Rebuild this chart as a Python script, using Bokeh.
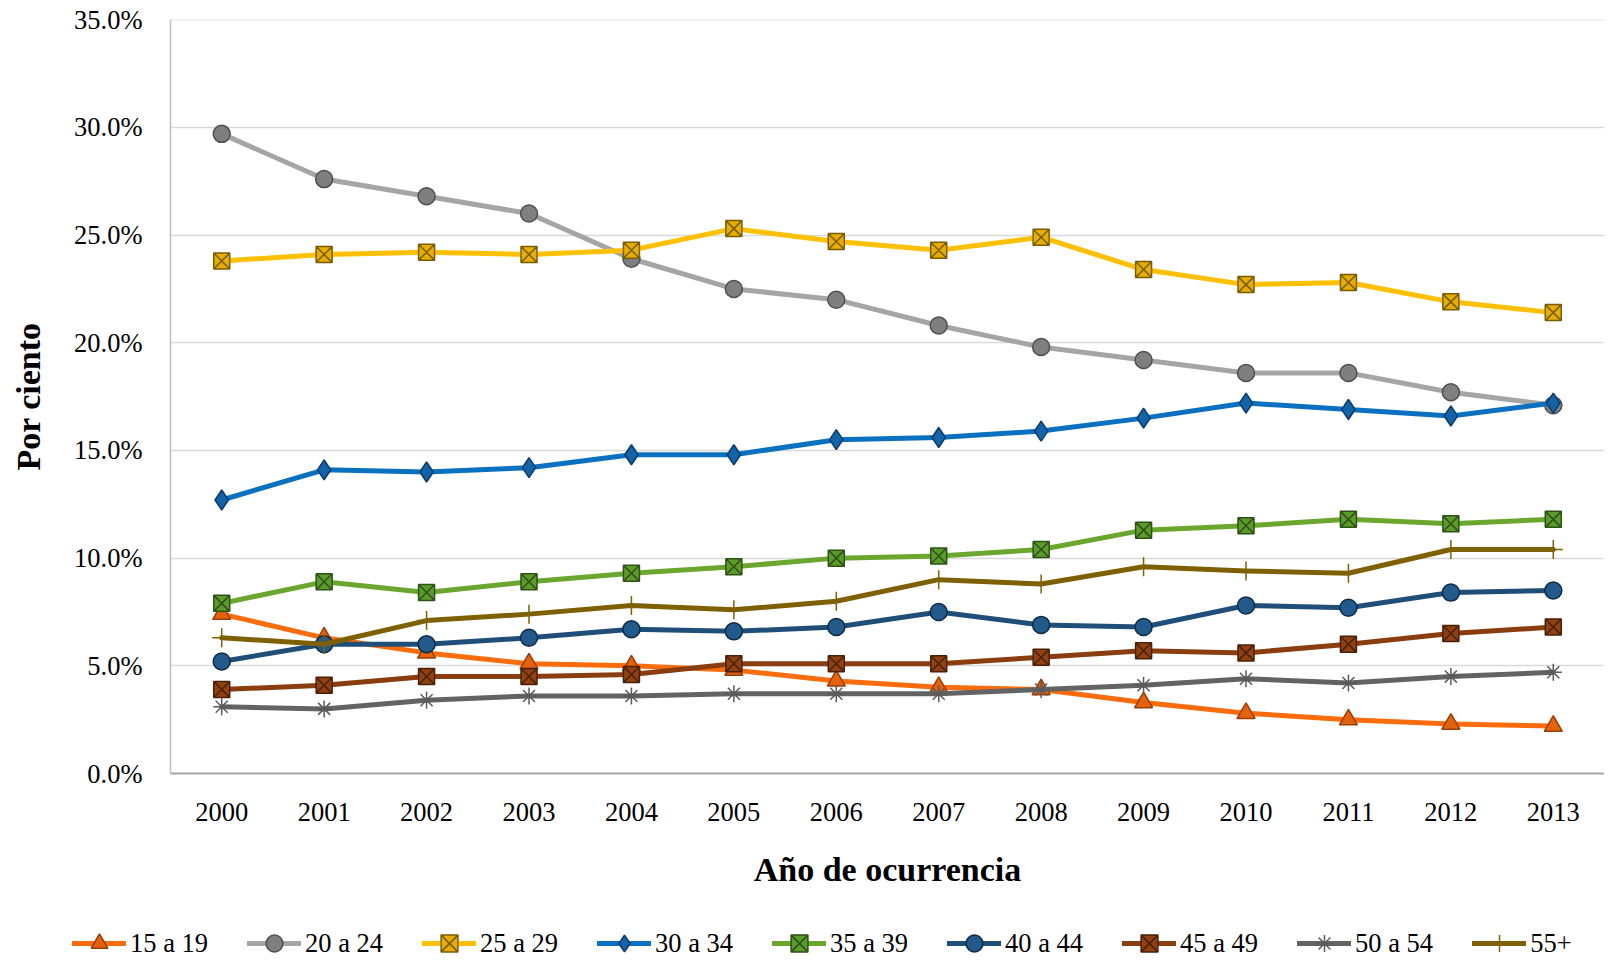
from bokeh.plotting import figure
from bokeh.layouts import column
from bokeh.models import (FactorRange, Range1d, SingleIntervalTicker, NumeralTickFormatter,
                          Legend, LegendItem)
from bokeh.embed import file_html
from bokeh.resources import INLINE

years = ["2000", "2001", "2002", "2003", "2004", "2005", "2006", "2007",
         "2008", "2009", "2010", "2011", "2012", "2013"]

g15_19 = [7.4, 6.3, 5.6, 5.1, 5.0, 4.8, 4.3, 4.0, 3.9, 3.3, 2.8, 2.5, 2.3, 2.2]
g20_24 = [29.7, 27.6, 26.8, 26.0, 23.9, 22.5, 22.0, 20.8, 19.8, 19.2, 18.6, 18.6, 17.7, 17.1]
g25_29 = [23.8, 24.1, 24.2, 24.1, 24.3, 25.3, 24.7, 24.3, 24.9, 23.4, 22.7, 22.8, 21.9, 21.4]
g30_34 = [12.7, 14.1, 14.0, 14.2, 14.8, 14.8, 15.5, 15.6, 15.9, 16.5, 17.2, 16.9, 16.6, 17.2]
g35_39 = [7.9, 8.9, 8.4, 8.9, 9.3, 9.6, 10.0, 10.1, 10.4, 11.3, 11.5, 11.8, 11.6, 11.8]
g40_44 = [5.2, 6.0, 6.0, 6.3, 6.7, 6.6, 6.8, 7.5, 6.9, 6.8, 7.8, 7.7, 8.4, 8.5]
g45_49 = [3.9, 4.1, 4.5, 4.5, 4.6, 5.1, 5.1, 5.1, 5.4, 5.7, 5.6, 6.0, 6.5, 6.8]
g50_54 = [3.1, 3.0, 3.4, 3.6, 3.6, 3.7, 3.7, 3.7, 3.9, 4.1, 4.4, 4.2, 4.5, 4.7]
g55p = [6.3, 6.0, 7.1, 7.4, 7.8, 7.6, 8.0, 9.0, 8.8, 9.6, 9.4, 9.3, 10.4, 10.4]

labels = ["15 a 19", "20 a 24", "25 a 29", "30 a 34", "35 a 39",
          "40 a 44", "45 a 49", "50 a 54", "55+"]
series = [g15_19, g20_24, g25_29, g30_34, g35_39, g40_44, g45_49, g50_54, g55p]

# (line color, marker, marker fill, marker outline, marker size)
styles = [
    ("#FB6D0C", "triangle", "#E2620E", "#9A3E06", 18),
    ("#A5A5A5", "circle", "#7F7F7F", "#4F4F4F", 17),
    ("#FFC000", "square_x", "#E6AE00", "#7A5C00", 16),
    ("#0A70C0", "diamond", "#1462A8", "#0A3C6A", 20),
    ("#6BA72F", "square_x", "#5C9A2C", "#2C5214", 16),
    ("#1F4E79", "circle", "#225A8C", "#0F2A44", 17),
    ("#8A3D0E", "square_x", "#8E4213", "#4A1F05", 16),
    ("#636363", "asterisk", "#636363", "#5A5A5A", 17),
    ("#7F6000", "cross", "#7F6000", "#7F6000", 19),
]

FONT = "Liberation Serif"
W = 1604

p = figure(width=W, height=910, output_backend="svg", toolbar_location=None,
           x_range=FactorRange(*years, range_padding=0), y_range=Range1d(0, 0.3501),
           min_border_left=170, min_border_right=0, min_border_top=19, min_border_bottom=137)
p.outline_line_color = None
p.background_fill_color = "white"
p.frame_align = False

for lab, vals, (lc, mk, fc, oc, sz) in zip(labels, series, styles):
    ys = [v / 100 for v in vals]
    p.line(years, ys, line_color=lc, line_width=5, line_join="round", line_cap="round")
    p.scatter(years, ys, marker=mk, size=sz, fill_color=fc, line_color=oc, line_width=1.5)

# axes
p.yaxis.ticker = SingleIntervalTicker(interval=0.05)
p.yaxis.formatter = NumeralTickFormatter(format="0.0%")
p.yaxis.axis_line_color = "#BFBFBF"
p.yaxis.axis_line_width = 1.5
p.yaxis.major_tick_line_color = None
p.yaxis.minor_tick_line_color = None
p.yaxis.major_label_text_font = FONT
p.yaxis.major_label_text_font_size = "26.5px"
p.yaxis.major_label_text_color = "#000000"
p.yaxis.major_label_standoff = 22
p.yaxis.axis_label = "Por ciento"
p.yaxis.axis_label_text_font = FONT
p.yaxis.axis_label_text_font_style = "bold"
p.yaxis.axis_label_text_font_size = "34px"
p.yaxis.axis_label_text_color = "#000000"
p.yaxis.axis_label_standoff = 24

p.xaxis.axis_line_color = "#A6A6A6"
p.xaxis.axis_line_width = 2
p.xaxis.major_tick_line_color = None
p.xaxis.minor_tick_line_color = None
p.xaxis.major_label_text_font = FONT
p.xaxis.major_label_text_font_size = "26.5px"
p.xaxis.major_label_text_color = "#000000"
p.xaxis.major_label_standoff = 23
p.xaxis.axis_label = "Año de ocurrencia"
p.xaxis.axis_label_text_font = FONT
p.xaxis.axis_label_text_font_style = "bold"
p.xaxis.axis_label_text_font_size = "34px"
p.xaxis.axis_label_text_color = "#000000"
p.xaxis.axis_label_standoff = 27

p.xgrid.grid_line_color = None
p.ygrid.grid_line_color = "#D9D9D9"
p.ygrid.grid_line_width = 1.5

# legend strip (separate figure so that the legend is not clipped by the chart frame)
pl = figure(width=W, height=50, output_backend="svg", toolbar_location=None,
            x_range=FactorRange(*years, range_padding=0), y_range=Range1d(100, 101),
            x_axis_location=None, y_axis_location=None,
            min_border_left=0, min_border_right=0, min_border_top=0, min_border_bottom=0)
pl.outline_line_color = None
pl.xgrid.visible = False
pl.ygrid.visible = False
pl.frame_align = False

items = []
for lab, vals, (lc, mk, fc, oc, sz) in zip(labels, series, styles):
    # same data as the chart; it lies outside this strip's y range, only the legend shows
    r1 = pl.line(years, vals, line_color=lc, line_width=5, line_cap="round")
    r2 = pl.scatter(years, vals, marker=mk, size=sz, fill_color=fc, line_color=oc, line_width=1.5)
    items.append(LegendItem(label=lab, renderers=[r1, r2]))

legend = Legend(items=items, orientation="horizontal", location=(72, -4),
                glyph_width=54, glyph_height=42, label_standoff=4, spacing=39,
                padding=0, margin=0, border_line_color=None, background_fill_alpha=0,
                label_text_font=FONT, label_text_font_size="26.5px", label_text_color="#000000")
pl.add_layout(legend, "center")

open("out.html", "w").write(file_html(column(p, pl, spacing=0), INLINE))
